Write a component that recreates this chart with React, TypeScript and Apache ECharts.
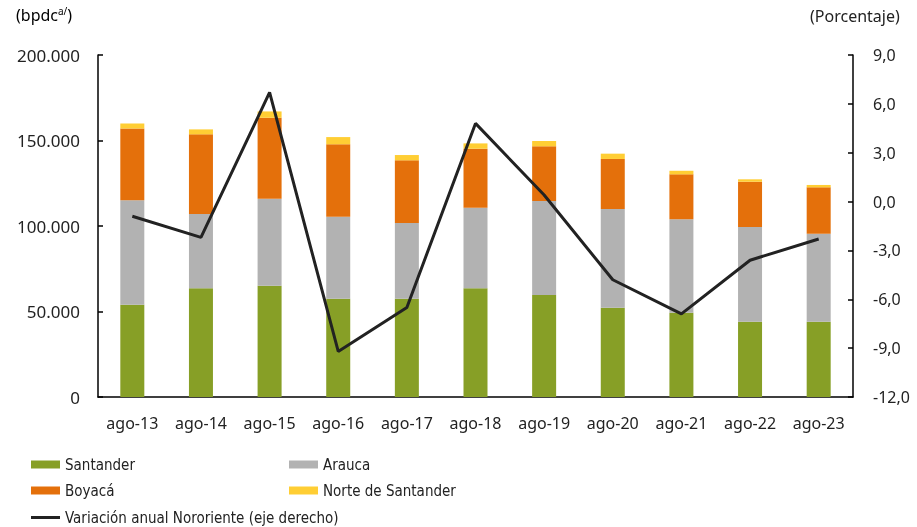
import React, { useEffect, useRef } from "react";
import * as echarts from "echarts";

const categories = ["ago-13", "ago-14", "ago-15", "ago-16", "ago-17", "ago-18", "ago-19", "ago-20", "ago-21", "ago-22", "ago-23"];
const santander = [54000, 63600, 65100, 57500, 57500, 63600, 59600, 52200, 49300, 44000, 44000];
const arauca = [61000, 43400, 50900, 47900, 44300, 47100, 55000, 57700, 54600, 55400, 51500];
const boyaca = [42000, 46600, 47300, 42400, 36600, 34500, 32000, 29300, 26300, 26500, 27100];
const norte = [3000, 2900, 3700, 4200, 3100, 3100, 3100, 3100, 2100, 1400, 1400];
const variacion = [-0.9, -2.2, 6.7, -9.2, -6.5, 4.8, 0.4, -4.8, -6.9, -3.6, -2.3];

const FONT = "'Noto Sans', sans-serif";
const LEG_FONT = "'Liberation Sans Narrow', 'DejaVu Sans Condensed', sans-serif";

export default function App() {
  const ref = useRef<HTMLDivElement>(null);
  useEffect(() => {
    if (!ref.current) return;
    const chart = echarts.init(ref.current, null, { renderer: "svg" });
    const legendText = { fontFamily: LEG_FONT, fontSize: 15, color: "#222" };
    const mkLegend = (name: string, left: number, top: number, h = 8) => ({
      data: [name],
      left,
      top,
      itemWidth: 29,
      itemHeight: h,
      itemGap: 4,
      icon: "rect",
      padding: 0,
      textStyle: legendText,
    });
    const barSeries = (name: string, data: number[], color: string) => ({
      name,
      type: "bar",
      stack: "total",
      data,
      barWidth: 24,
      itemStyle: { color },
    });
    chart.setOption({
      animation: false,
      grid: { left: 98, right: 64, top: 55, bottom: 130, containLabel: false },
      graphic: [
        {
          type: "text",
          left: 16,
          top: 6,
          style: {
            text: "{a|(bpdc}{s|a/}{a|)}",
            rich: {
              a: { fontFamily: FONT, fontSize: 16, color: "#222", verticalAlign: "bottom" },
              s: { fontFamily: FONT, fontSize: 10, color: "#222", verticalAlign: "top", padding: [0, 0, 7, 0] },
            },
          },
        },
        {
          type: "text",
          left: 810,
          top: 8,
          style: { text: "(Porcentaje)", fontFamily: FONT, fontSize: 16, fill: "#222" },
        },
      ],
      legend: [
        mkLegend("Santander", 31, 457),
        mkLegend("Arauca", 289, 457),
        mkLegend("Boyacá", 31, 483),
        mkLegend("Norte de Santander", 289, 483),
        mkLegend("Variación anual Nororiente (eje derecho)", 31, 510, 3),
      ],
      xAxis: {
        type: "category",
        data: categories,
        axisLine: { lineStyle: { color: "#000", width: 1.5 } },
        axisTick: { inside: true, length: 5, lineStyle: { color: "#000", width: 1.5 } },
        axisLabel: { fontFamily: FONT, fontSize: 16, color: "#222", margin: 18 },
      },
      yAxis: [
        {
          type: "value",
          min: 0,
          max: 200000,
          interval: 50000,
          splitLine: { show: false },
          axisLine: { show: true, lineStyle: { color: "#000", width: 1.5 } },
          axisTick: { show: true, inside: true, length: 5, lineStyle: { color: "#000", width: 1.5 } },
          axisLabel: {
            fontFamily: FONT,
            fontSize: 17,
            color: "#222",
            margin: 18,
            formatter: (v: number) => (v === 0 ? "0" : v.toLocaleString("de-DE")),
          },
        },
        {
          type: "value",
          min: -12,
          max: 9,
          interval: 3,
          position: "right",
          splitLine: { show: false },
          axisLine: { show: true, lineStyle: { color: "#000", width: 1.5 } },
          axisTick: { show: true, inside: true, length: 5, lineStyle: { color: "#000", width: 1.5 } },
          axisLabel: {
            fontFamily: FONT,
            fontSize: 16,
            color: "#222",
            margin: 20,
            formatter: (v: number) => v.toFixed(1).replace(".", ","),
          },
        },
      ],
      series: [
        barSeries("Santander", santander, "#879F26"),
        barSeries("Arauca", arauca, "#B2B2B2"),
        barSeries("Boyacá", boyaca, "#E4700B"),
        barSeries("Norte de Santander", norte, "#FFCE34"),
        {
          name: "Variación anual Nororiente (eje derecho)",
          type: "line",
          yAxisIndex: 1,
          data: variacion,
          symbol: "none",
          lineStyle: { color: "#222", width: 3 },
          itemStyle: { color: "#222" },
        },
      ],
    });
    return () => chart.dispose();
  }, []);
  return <div ref={ref} style={{ position: "fixed", left: 0, top: 0, width: 917, height: 527 }} />;
}
